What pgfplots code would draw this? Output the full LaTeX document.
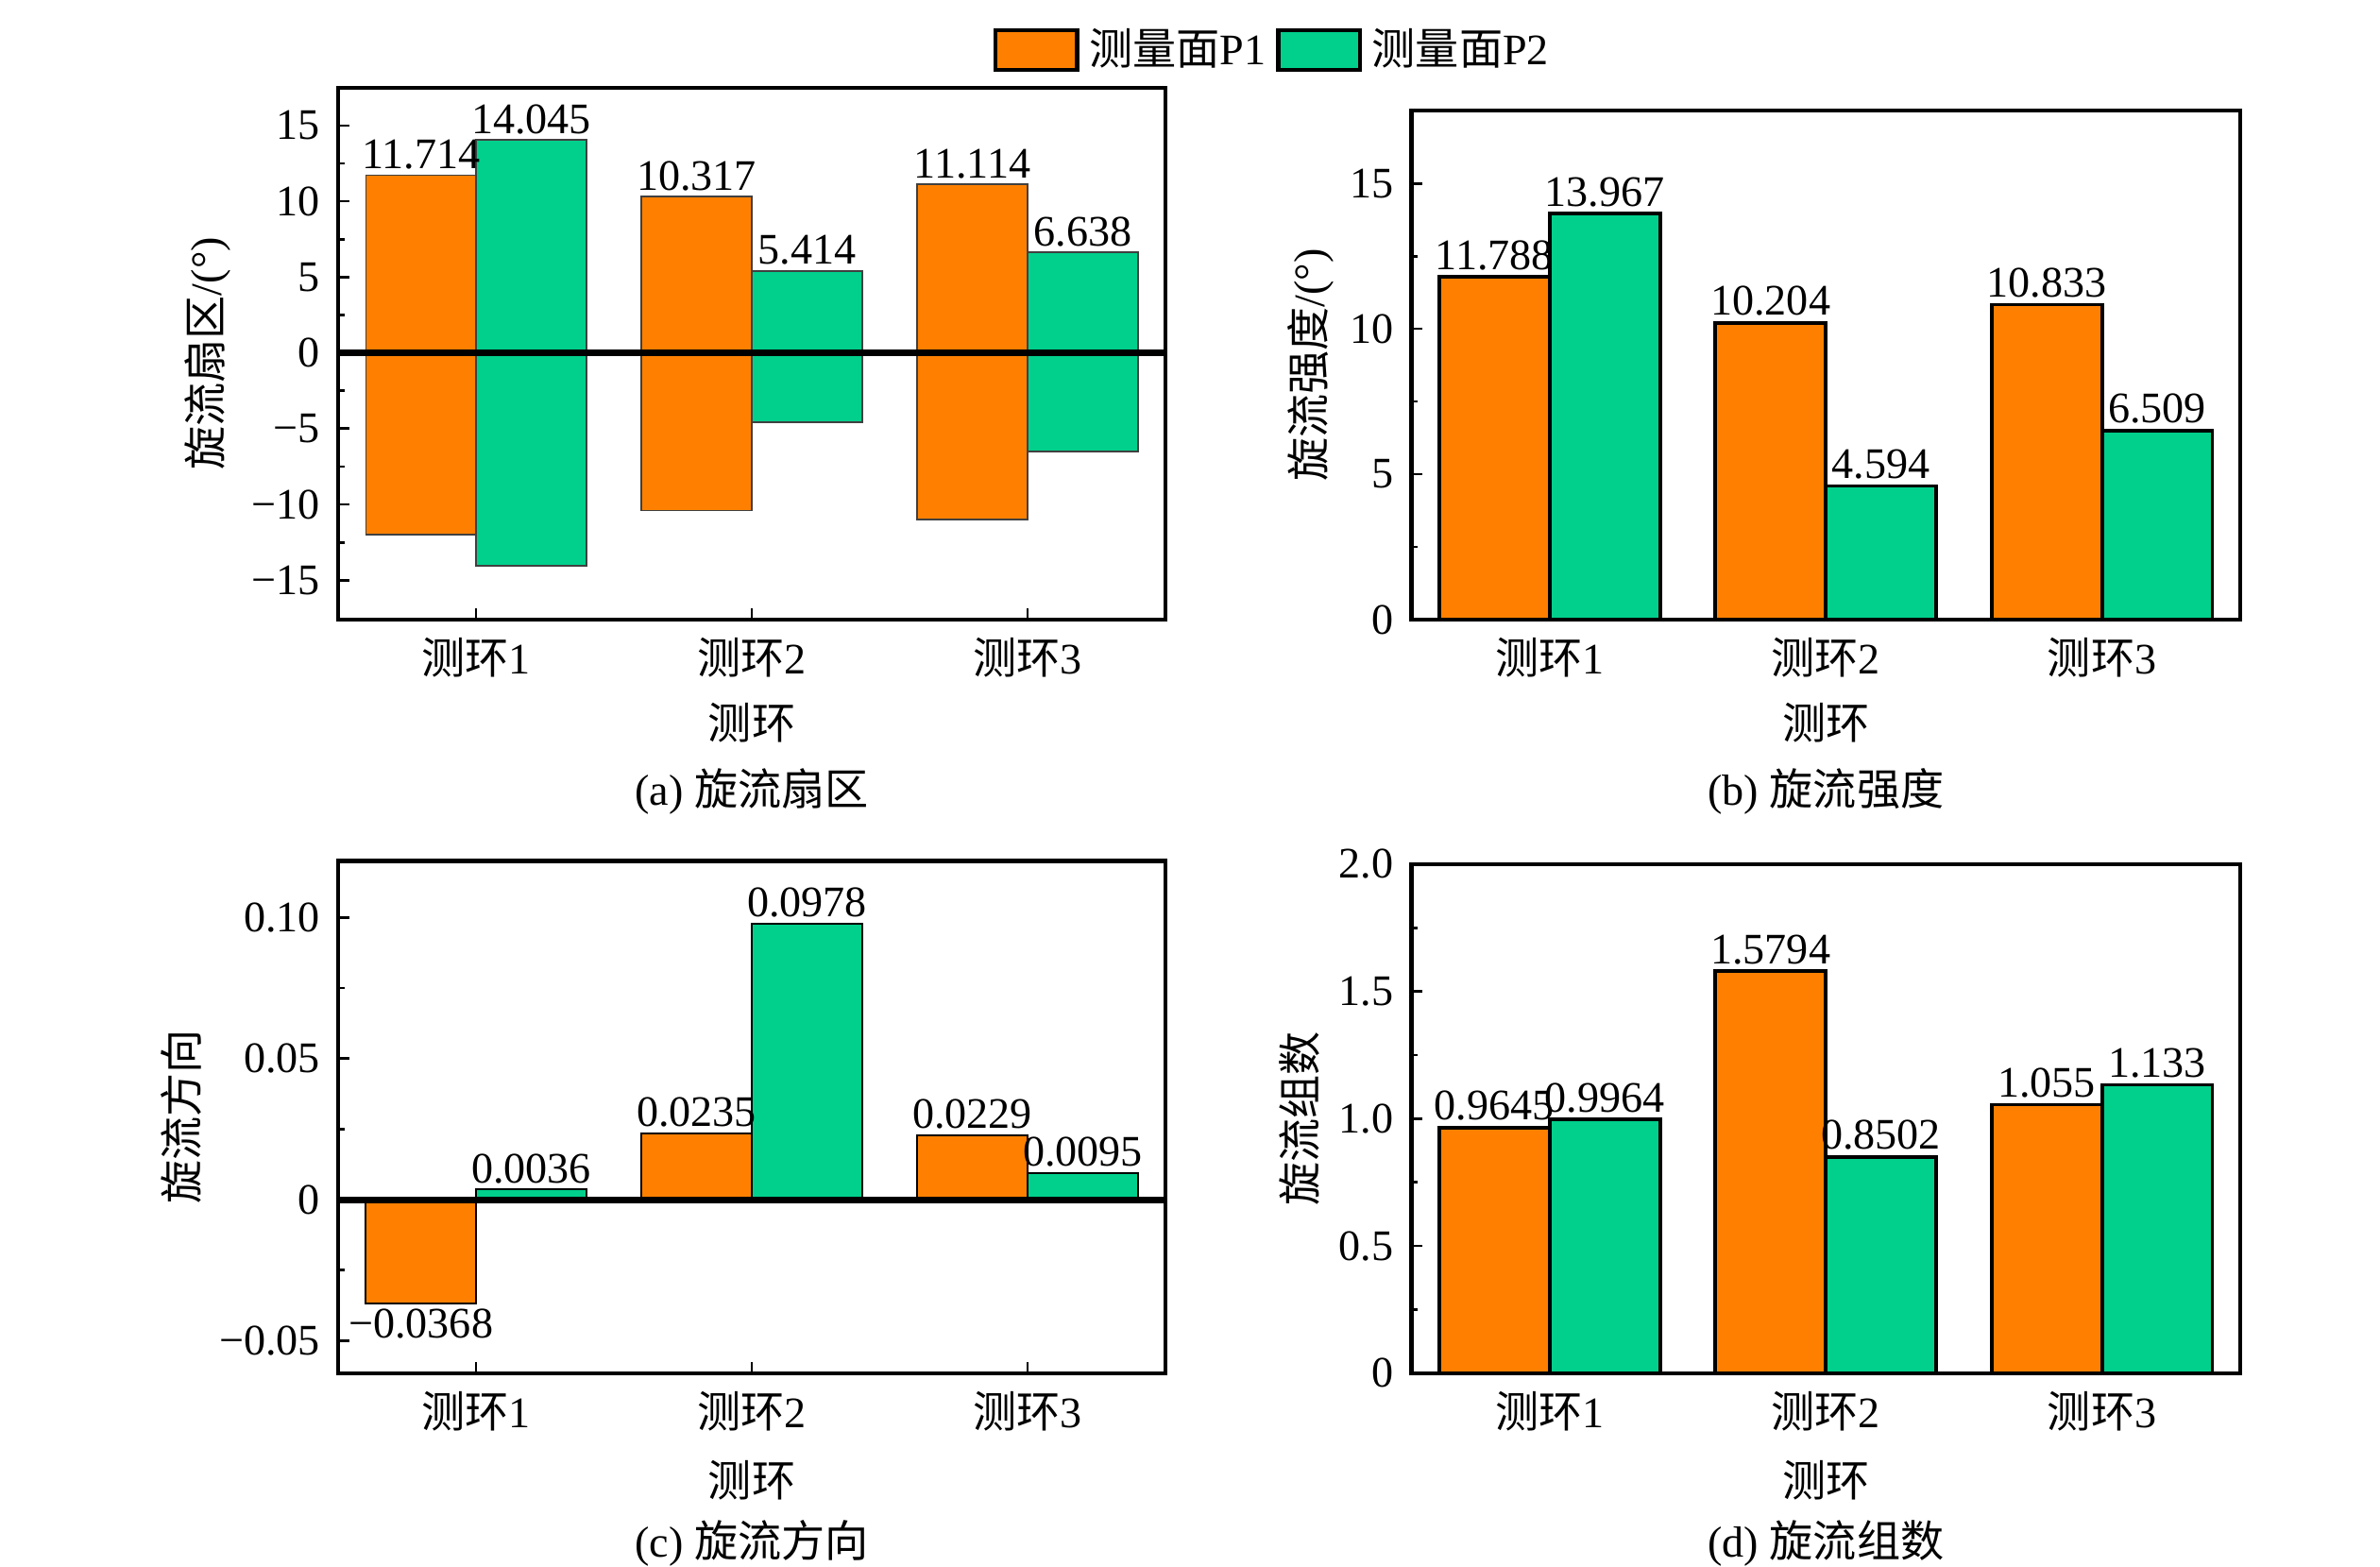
\documentclass[border=0pt]{standalone}
\usepackage{fontspec}
\setmainfont{Liberation Serif}
\newfontfamily\cjk{Noto Sans CJK SC}
\usepackage{pgfplots}
\pgfplotsset{compat=1.18}
\definecolor{cP1}{RGB}{255,128,0}
\definecolor{cP2}{RGB}{0,208,140}
\newcommand{\fs}{\fontsize{8.5}{10.2}\selectfont}
\pgfplotsset{
  panel/.style={
    scale only axis,
    xmin=0.5, xmax=3.5, xtick={1,2,3},
    xticklabels={{\cjk 测环}1,{\cjk 测环}2,{\cjk 测环}3},
    xlabel={\cjk 测环},
    tick align=inside, xtick pos=bottom, ytick pos=left,
    major tick length=2.2pt, minor tick length=1.2pt,
    minor y tick num=1,
    tick style={black, line width=0.5pt},
    axis line style={line width=0.8pt},
    font=\fs,
    ylabel style={anchor=center, rotate=0},
    xlabel style={anchor=center},
    every node near coord/.append style={font=\fs, inner sep=1pt, black},
    point meta=explicit symbolic,
  },
  left bar/.style={ybar, bar width=0.4, bar shift=-0.2, fill=cP1,
    every node near coord/.append style={xshift=-10.77pt}},
  right bar/.style={ybar, bar width=0.4, bar shift=0.2, fill=cP2,
    every node near coord/.append style={xshift=10.77pt}},
}
\begin{document}
\begin{tikzpicture}
\useasboundingbox (0,0) rectangle (464.4pt,305.7pt);
% (a)
\begin{axis}[panel, at={(66pt,184.8pt)}, anchor=south west,
  width=161.4pt, height=103.8pt,
  ymin=-17.6, ymax=17.5,
  ytick={-15,-10,-5,0,5,10,15},
  yticklabels={−15,−10,−5,0,5,10,15},
  ylabel={{\cjk 旋流扇区}/(°)},
  ylabel style={at={(axis description cs:-0.158,0.5)}},
  xlabel style={at={(axis description cs:0.5,-0.194)}},
  legend columns=2,
  legend style={at={(axis description cs:1.134,1.152)}, anchor=north, draw=none, fill=none, font=\fs,
    /tikz/every even column/.append style={column sep=0pt}},
  legend image code/.code={\draw[#1, draw=black, line width=0.8pt] (0pt,-3.9pt) rectangle (15.9pt,3.9pt);},
]
\addplot[left bar, draw=black!75, line width=0.3pt,
  nodes near coords] coordinates {(1,11.714) [11.714] (2,10.317) [10.317] (3,11.114) [11.114]};
\addlegendentry{{\cjk 测量面}P1}
\addplot[right bar, draw=black!75, line width=0.3pt,
  nodes near coords] coordinates {(1,14.045) [14.045] (2,5.414) [5.414] (3,6.638) [6.638]};
\addlegendentry{{\cjk 测量面}P2}
\addplot[left bar, draw=black!75, line width=0.3pt, forget plot]
  coordinates {(1,-12.0) [] (2,-10.4) [] (3,-11.0) []};
\addplot[right bar, draw=black!75, line width=0.3pt, forget plot]
  coordinates {(1,-14.05) [] (2,-4.59) [] (3,-6.51) []};
\addplot[black, line width=1.3pt, forget plot] coordinates {(0.5,0) [] (3.5,0) []};
\end{axis}
% (b)
\begin{axis}[panel, at={(275.4pt,184.8pt)}, anchor=south west,
  width=161.7pt, height=99.3pt,
  ymin=0, ymax=17.5,
  ytick={0,5,10,15},
  yticklabels={0,5,10,15},
  xtick style={draw=none},
  ylabel={{\cjk 旋流强度}/(°)},
  ylabel style={at={(axis description cs:-0.121,0.5)}},
  xlabel style={at={(axis description cs:0.5,-0.202)}},
]
\addplot[left bar, draw=black, line width=0.7pt,
  nodes near coords] coordinates {(1,11.788) [11.788] (2,10.204) [10.204] (3,10.833) [10.833]};
\addplot[right bar, draw=black, line width=0.7pt,
  nodes near coords] coordinates {(1,13.967) [13.967] (2,4.594) [4.594] (3,6.509) [6.509]};
\end{axis}
% (c)
\begin{axis}[panel, at={(66pt,37.8pt)}, anchor=south west,
  width=161.4pt, height=99.9pt,
  ymin=-0.0615, ymax=0.12,
  ytick={-0.05,0,0.05,0.1},
  yticklabels={−0.05,0,0.05,0.10},
  ylabel={\cjk 旋流方向},
  ylabel style={at={(axis description cs:-0.190,0.5)}},
  xlabel style={at={(axis description cs:0.5,-0.21)}},
]
\addplot[left bar, draw=black, line width=0.35pt,
  nodes near coords] coordinates {(2,0.0235) [0.0235] (3,0.0229) [0.0229]};
\addplot[left bar, draw=black, line width=0.35pt, forget plot,
  nodes near coords, every node near coord/.append style={anchor=north}]
  coordinates {(1,-0.0368) [−0.0368]};
\addplot[right bar, draw=black, line width=0.35pt,
  nodes near coords] coordinates {(1,0.0036) [0.0036] (2,0.0978) [0.0978] (3,0.0095) [0.0095]};
\addplot[black, line width=1.3pt, forget plot] coordinates {(0.5,0) [] (3.5,0) []};
\end{axis}
% (d)
\begin{axis}[panel, at={(275.4pt,37.8pt)}, anchor=south west,
  width=161.7pt, height=99.3pt,
  ymin=0, ymax=2,
  ytick={0,0.5,1,1.5,2},
  yticklabels={0,0.5,1.0,1.5,2.0},
  xtick style={draw=none},
  ylabel={\cjk 旋流组数},
  ylabel style={at={(axis description cs:-0.135,0.5)}},
  xlabel style={at={(axis description cs:0.5,-0.211)}},
]
\addplot[left bar, draw=black, line width=0.7pt,
  nodes near coords] coordinates {(1,0.9645) [0.9645] (2,1.5794) [1.5794] (3,1.055) [1.055]};
\addplot[right bar, draw=black, line width=0.7pt,
  nodes near coords] coordinates {(1,0.9964) [0.9964] (2,0.8502) [0.8502] (3,1.133) [1.133]};
\end{axis}
\node[font=\fs] at (146.7pt,151.2pt) {(a) {\cjk 旋流扇区}};
\node[font=\fs] at (356.3pt,151.2pt) {(b) {\cjk 旋流强度}};
\node[font=\fs] at (146.7pt,4.6pt) {(c) {\cjk 旋流方向}};
\node[font=\fs] at (356.3pt,4.6pt) {(d) {\cjk 旋流组数}};
\end{tikzpicture}
\end{document}
